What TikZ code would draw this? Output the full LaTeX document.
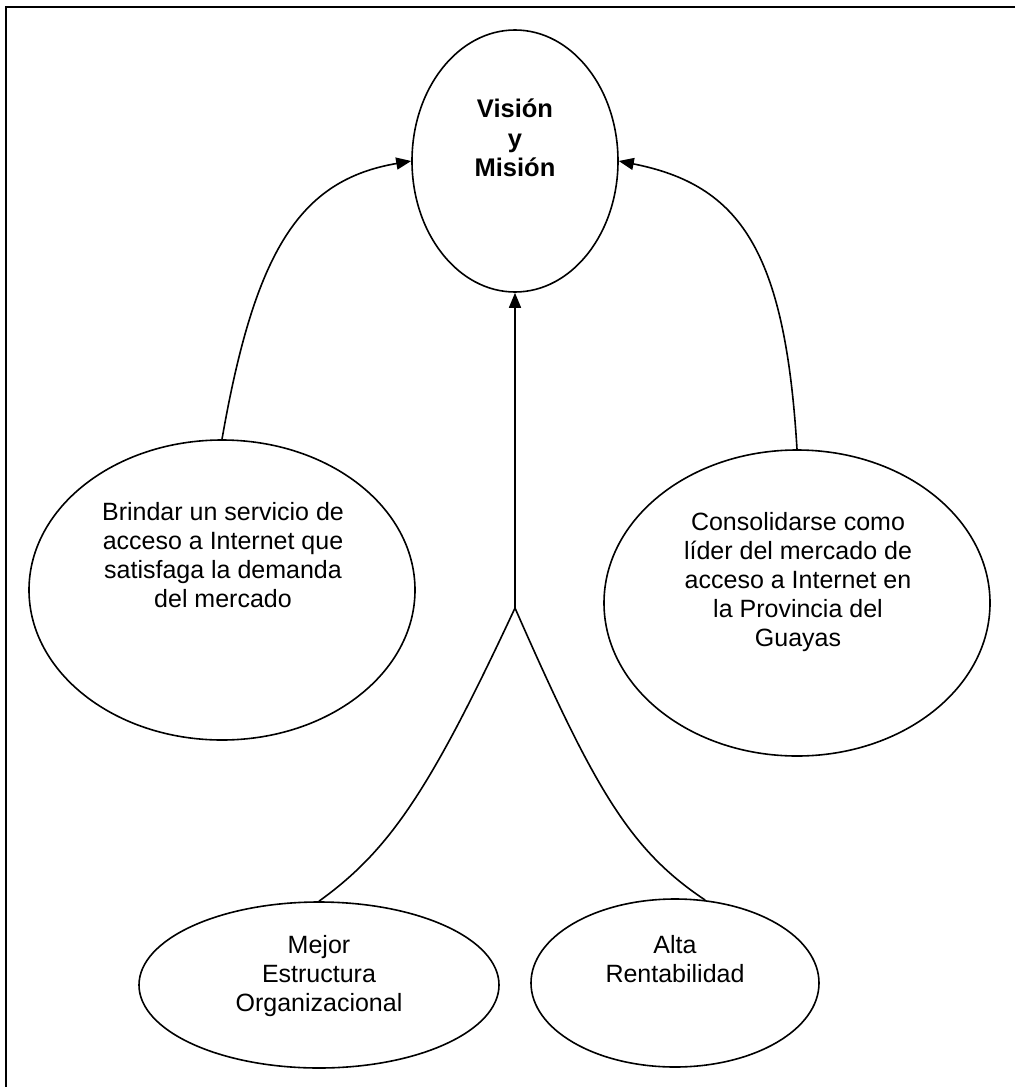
\documentclass[tikz,border=0pt]{standalone}
\usepackage{fontspec}
\setmainfont{Liberation Sans}
\usetikzlibrary{shapes.geometric,arrows.meta}
\begin{document}
\begin{tikzpicture}[x=1pt,y=-1pt,
  oval/.style={draw=black,line width=1.6pt,ellipse,inner sep=0pt,fill=white},
  lbl/.style={align=center,inner sep=0pt,font=\fontsize{25}{29}\selectfont},
  conn/.style={draw=black,line width=1.6pt},
  arr/.style={conn,-{Triangle[length=15pt,width=12pt]}}]
\useasboundingbox (0,0) rectangle (1015,1087);
\draw[line width=1.8pt] (1015,7) -- (6,7) -- (6,1087);
% ellipses
\node[oval,minimum width=206pt,minimum height=262pt] (vision) at (515,161) {};
\node[oval,minimum width=386pt,minimum height=300pt] (brindar) at (222,590) {};
\node[oval,minimum width=386pt,minimum height=306pt] (consol) at (797,603) {};
\node[oval,minimum width=360pt,minimum height=166pt] (mejor) at (319,985) {};
\node[oval,minimum width=288pt,minimum height=168pt] (alta) at (675,983) {};
% texts
\node[lbl,font=\fontsize{25.5}{29.5}\selectfont\bfseries] (tvision) at (515,138) {Visión\\y\\Misión};
\node[lbl] (tbrindar) at (223,555) {Brindar un servicio de\\acceso a Internet que\\satisfaga la demanda\\del mercado};
\node[lbl] (tconsol) at (798,582) {Consolidarse como\\líder del mercado de\\acceso a Internet en\\la Provincia del\\Guayas};
\node[lbl] (tmejor) at (319,976) {Mejor\\Estructura\\Organizacional};
\node[lbl] (talta) at (675,959) {Alta\\Rentabilidad};
% connectors
\coordinate (junc) at (515,608);
\draw[arr] (brindar.north) .. controls (255,250) and (300,180) .. (vision.west);
\draw[arr] (consol.north) .. controls (785,250) and (740,185) .. (vision.east);
\draw[arr] (junc) -- (vision.south);
\draw[conn] (mejor.north) .. controls (390,850) and (430,790) .. (junc);
\draw[conn] (alta.70) .. controls (630,850) and (595,790) .. (junc);
\end{tikzpicture}
\end{document}
